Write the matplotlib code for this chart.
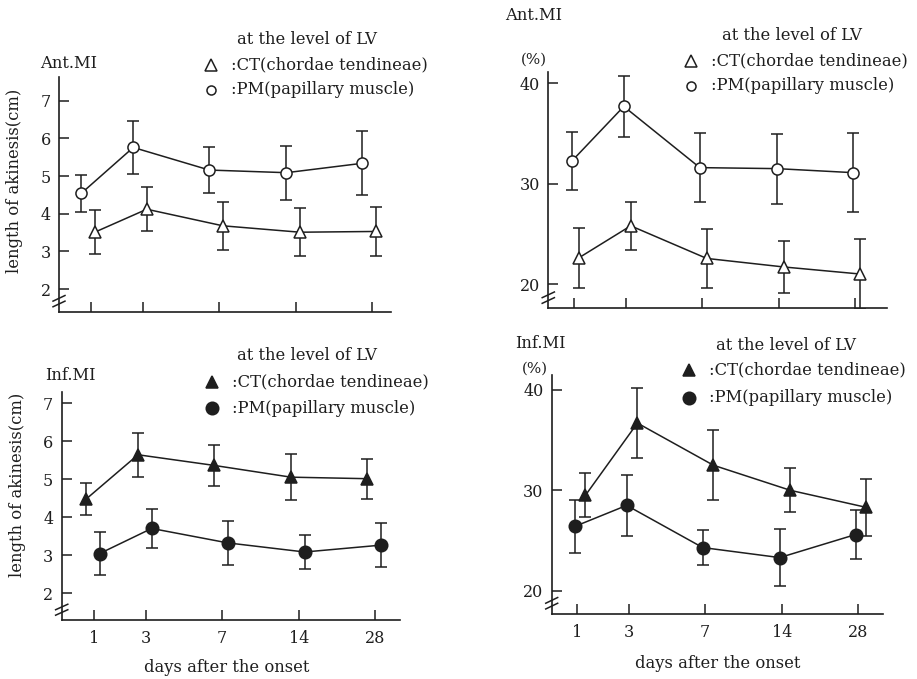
import matplotlib
matplotlib.use("Agg")
import matplotlib.pyplot as plt
from matplotlib.lines import Line2D

plt.rcParams['font.family'] = ['DejaVu Serif']

days = ["1", "3", "7", "14", "28"]
day_pos = [0, 52, 128, 205, 281]

# Panel A: Ant.MI length (cm)
antA_ct = [3.51, 4.12, 3.68, 3.51, 3.53]
antA_ct_err = [0.58, 0.59, 0.64, 0.63, 0.65]
antA_pm = [4.54, 5.76, 5.16, 5.09, 5.34]
antA_pm_err = [0.50, 0.70, 0.60, 0.72, 0.85]

# Panel B: Ant.MI (%)
antB_ct = [22.6, 25.8, 22.55, 21.7, 21.0]
antB_ct_err = [3.0, 2.4, 2.9, 2.6, 3.5]
antB_pm = [32.25, 37.7, 31.6, 31.5, 31.1]
antB_pm_err = [2.9, 3.0, 3.45, 3.5, 3.95]

# Panel C: Inf.MI length (cm)
infC_ct = [4.48, 5.65, 5.37, 5.06, 5.02]
infC_ct_err = [0.42, 0.58, 0.54, 0.60, 0.53]
infC_pm = [3.05, 3.71, 3.33, 3.09, 3.27]
infC_pm_err = [0.56, 0.52, 0.58, 0.46, 0.58]

# Panel D: Inf.MI (%)
infD_ct = [29.5, 36.7, 32.5, 30.0, 28.3]
infD_ct_err = [2.2, 3.5, 3.5, 2.2, 2.8]
infD_pm = [26.4, 28.5, 24.3, 23.3, 25.6]
infD_pm_err = [2.6, 3.0, 1.75, 2.85, 2.4]

W, H = 917, 679
fig = plt.figure(figsize=(W / 100, H / 100), dpi=100)
INK = '#1e1e1e'
FS = 11.8
TFS = 11.5


def px_axes(l, r, b, t):
    return fig.add_axes([l / W, 1 - b / H, (r - l) / W, (b - t) / H])


def style(ax, xlim, ylim, yticks, show_xlabels):
    ax.set_xlim(*xlim)
    ax.set_ylim(*ylim)
    for s in ['top', 'right']:
        ax.spines[s].set_visible(False)
    for s in ['left', 'bottom']:
        ax.spines[s].set_color(INK)
        ax.spines[s].set_linewidth(1.2)
    ax.set_yticks(yticks)
    ax.set_yticklabels([str(v) for v in yticks])
    ax.set_xticks(day_pos)
    if show_xlabels:
        ax.set_xticklabels(days)
    else:
        ax.set_xticklabels([])
    ax.tick_params(axis='both', direction='in', length=7, width=1.1,
                   color=INK, labelsize=TFS, labelcolor=INK)
    ax.tick_params(axis='y', pad=6)
    ax.tick_params(axis='x', pad=7)
    # axis break marks
    for dy in (-0.012, 0.012):
        yb = 0.045 + dy
        ax.plot([-0.018, 0.018], [yb - 0.012, yb + 0.012], transform=ax.transAxes,
                color=INK, lw=1.1, clip_on=False)


def series(ax, x_off, y, err, marker, filled, ms):
    xs = [p + x_off for p in day_pos]
    ax.errorbar(xs, y, yerr=err, fmt='-', color=INK, lw=1.1, elinewidth=1.1,
                capsize=4.5, capthick=1.1, zorder=2)
    ax.plot(xs, y, linestyle='none', marker=marker, ms=ms,
            mfc=INK if filled else 'white', mec=INK, mew=1.1, zorder=3)


def legend(x_txt, y_head, y1, y2, x_mk, filled):
    fig.text(x_txt / W, 1 - y_head / H, "at the level of LV", fontsize=FS,
             color=INK, va='center', ha='left')
    fig.add_artist(Line2D([x_mk / W], [1 - y1 / H], marker='^', ms=8 if not filled else 9,
                          mfc=INK if filled else 'white', mec=INK, mew=1.1,
                          linestyle='none', transform=fig.transFigure))
    fig.add_artist(Line2D([x_mk / W], [1 - y2 / H], marker='o', ms=6.5 if not filled else 9,
                          mfc=INK if filled else 'white', mec=INK, mew=1.1,
                          linestyle='none', transform=fig.transFigure))
    fig.text((x_mk + 20) / W, 1 - y1 / H, ":CT(chordae tendineae)", fontsize=FS,
             color=INK, va='center', ha='left')
    fig.text((x_mk + 20) / W, 1 - y2 / H, ":PM(papillary muscle)", fontsize=FS,
             color=INK, va='center', ha='left')


# Panel A
axA = px_axes(59, 391, 311.7, 77)
style(axA, (-31.7, 300), (1.40, 7.63), [2, 3, 4, 5, 6, 7], False)
series(axA, -9.5, antA_pm, antA_pm_err, 'o', False, 8)
series(axA, 4, antA_ct, antA_ct_err, '^', False, 8.5)
fig.text(40 / W, 1 - 64 / H, "Ant.MI", fontsize=FS, color=INK, va='center')
fig.text(15 / W, 1 - 181 / H, "length of akinesis(cm)", fontsize=FS, color=INK,
         rotation=90, va='center', ha='center')
legend(237, 39, 65, 90, 211, False)

# Panel B
axB = px_axes(548.3, 886.7, 308.3, 71.7)
style(axB, (-26, 312.4), (17.58, 41.16), [20, 30, 40], False)
series(axB, -2.5, antB_pm, antB_pm_err, 'o', False, 8)
series(axB, 4.4, antB_ct, antB_ct_err, '^', False, 8.5)
fig.text(505 / W, 1 - 15 / H, "Ant.MI", fontsize=FS, color=INK, va='center')
fig.text(521 / W, 1 - 60 / H, "(%)", fontsize=FS - 1, color=INK, va='center')
legend(722, 35, 61, 86, 691, False)

# Panel C
axC = px_axes(61.7, 400, 620, 391.7)
style(axC, (-32.3, 306), (1.30, 7.31), [2, 3, 4, 5, 6, 7], True)
series(axC, -8, infC_ct, infC_ct_err, '^', True, 9)
series(axC, 5.7, infC_pm, infC_pm_err, 'o', True, 9)
fig.text(45 / W, 1 - 376 / H, "Inf.MI", fontsize=FS, color=INK, va='center')
fig.text(18 / W, 1 - 485 / H, "length of akinesis(cm)", fontsize=FS, color=INK,
         rotation=90, va='center', ha='center')
fig.text(227 / W, 1 - 668 / H, "days after the onset", fontsize=FS, color=INK,
         va='center', ha='center')
legend(237, 355, 381.7, 408.3, 212, True)

# Panel D
axD = px_axes(551.7, 883.3, 614, 375)
style(axD, (-25, 306.6), (17.68, 41.49), [20, 30, 40], True)
series(axD, 8.7, infD_ct, infD_ct_err, '^', True, 9)
series(axD, -2, infD_pm, infD_pm_err, 'o', True, 9)
fig.text(515 / W, 1 - 344 / H, "Inf.MI", fontsize=FS, color=INK, va='center')
fig.text(522 / W, 1 - 369 / H, "(%)", fontsize=FS - 1, color=INK, va='center')
fig.text(718 / W, 1 - 664 / H, "days after the onset", fontsize=FS, color=INK,
         va='center', ha='center')
legend(716, 345, 370, 398, 689, True)

fig.savefig("out.png", dpi=100, facecolor='white')
